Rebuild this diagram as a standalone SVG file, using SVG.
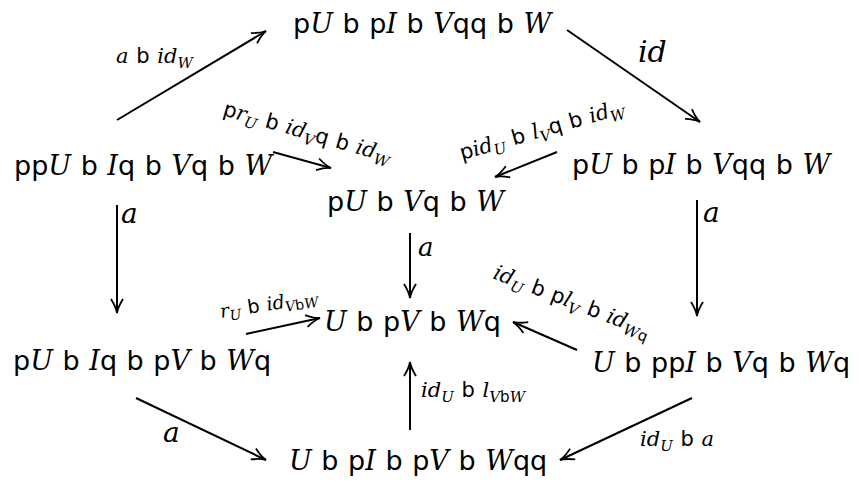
<svg xmlns="http://www.w3.org/2000/svg" width="859" height="483" viewBox="0 0 859 483">
<style>
text{font-family:'DejaVu Serif',serif;font-style:italic;fill:#000}
.s{font-family:'DejaVu Sans',sans-serif;font-style:normal}
.n{font-size:27px;word-spacing:1px}
.l{font-size:21px;word-spacing:1px}
.e{stroke:#000;stroke-width:2;fill:none;marker-end:url(#ah)}
</style>
<defs>
<marker id="ah" viewBox="0 0 16 14" refX="15" refY="7" markerWidth="16" markerHeight="14" markerUnits="userSpaceOnUse" orient="auto">
<path d="M1,1 Q9,6 15,7 Q9,8 1,13" fill="none" stroke="#000" stroke-width="1.8"/>
</marker>
</defs>
<rect width="859" height="483" fill="#fff"/>
<g id="edges">
<line class="e" x1="117" y1="120" x2="266" y2="31"/>
<line class="e" x1="567" y1="30" x2="700" y2="122"/>
<line class="e" x1="273" y1="152" x2="331" y2="168"/>
<line class="e" x1="557" y1="152" x2="495" y2="177"/>
<line class="e" x1="117" y1="205" x2="117" y2="313"/>
<line class="e" x1="410" y1="233" x2="410" y2="298"/>
<line class="e" x1="697" y1="200" x2="697" y2="316"/>
<line class="e" x1="246" y1="334" x2="320" y2="318"/>
<line class="e" x1="577" y1="350" x2="513" y2="322"/>
<line class="e" x1="410" y1="430" x2="410" y2="362"/>
<line class="e" x1="136" y1="398" x2="266" y2="460"/>
<line class="e" x1="692" y1="398" x2="560" y2="460"/>
</g>
<g id="n_top"><text x="293" y="33" class="n"><tspan class="s">p</tspan>U <tspan class="s">b p</tspan>I <tspan class="s">b</tspan> V<tspan class="s">qq b</tspan> W</text></g>
<g id="n_left"><text x="14" y="175" class="n"><tspan class="s">pp</tspan>U <tspan class="s">b</tspan> I<tspan class="s">q b</tspan> V<tspan class="s">q b</tspan> W</text></g>
<g id="n_right"><text x="572" y="174" class="n"><tspan class="s">p</tspan>U <tspan class="s">b p</tspan>I <tspan class="s">b</tspan> V<tspan class="s">qq b</tspan> W</text></g>
<g id="n_center"><text x="327" y="211" class="n"><tspan class="s">p</tspan>U <tspan class="s">b</tspan> V<tspan class="s">q b</tspan> W</text></g>
<g id="n_lowcenter"><text x="324" y="331" class="n">U <tspan class="s">b p</tspan>V <tspan class="s">b</tspan> W<tspan class="s">q</tspan></text></g>
<g id="n_lowleft"><text x="13" y="370" class="n"><tspan class="s">p</tspan>U <tspan class="s">b</tspan> I<tspan class="s">q b p</tspan>V <tspan class="s">b</tspan> W<tspan class="s">q</tspan></text></g>
<g id="n_lowright"><text x="592" y="372" class="n">U <tspan class="s">b pp</tspan>I <tspan class="s">b</tspan> V<tspan class="s">q b</tspan> W<tspan class="s">q</tspan></text></g>
<g id="n_bottom"><text x="289" y="470" class="n">U <tspan class="s">b p</tspan>I <tspan class="s">b p</tspan>V <tspan class="s">b</tspan> W<tspan class="s">qq</tspan></text></g>
<g id="labels">
<text x="116" y="63" class="l">a <tspan class="s">b</tspan> id<tspan font-size="15" dy="5">W</tspan></text>
<text x="638" y="62" font-size="30">id</text>
<text transform="translate(222,115) rotate(16)" class="l"><tspan class="s">p</tspan>r<tspan font-size="15" dy="5">U</tspan><tspan dy="-5"> </tspan><tspan class="s">b</tspan> id<tspan font-size="15" dy="5">V</tspan><tspan class="s" dy="-5">q b</tspan> id<tspan font-size="15" dy="5">W</tspan></text>
<text transform="translate(462,160) rotate(-16)" class="l"><tspan class="s">p</tspan>id<tspan font-size="15" dy="5">U</tspan><tspan dy="-5"> </tspan><tspan class="s">b</tspan> l<tspan font-size="15" dy="5">V</tspan><tspan class="s" dy="-5">q b</tspan> id<tspan font-size="15" dy="5">W</tspan></text>
<text x="121" y="223" font-size="28">a</text>
<text x="418" y="256" font-size="26">a</text>
<text x="703" y="222" font-size="28">a</text>
<text transform="translate(221,318) rotate(-9)" font-size="19" word-spacing="1">r<tspan font-size="14" dy="4">U</tspan><tspan dy="-4"> </tspan><tspan class="s">b</tspan> id<tspan font-size="14" dy="4">V<tspan class="s">b</tspan>W</tspan></text>
<text transform="translate(492,278) rotate(21)" class="l">id<tspan font-size="15" dy="5">U</tspan><tspan dy="-5"> </tspan><tspan class="s">b p</tspan>l<tspan font-size="15" dy="5">V</tspan><tspan dy="-5"> </tspan><tspan class="s">b</tspan> id<tspan font-size="15" dy="5">W<tspan class="s">q</tspan></tspan></text>
<text x="421" y="397" class="l">id<tspan font-size="15" dy="5">U</tspan><tspan dy="-5"> </tspan><tspan class="s">b</tspan> l<tspan font-size="15" dy="5">V<tspan class="s">b</tspan>W</tspan></text>
<text x="163" y="442" font-size="28">a</text>
<text x="640" y="446" class="l">id<tspan font-size="15" dy="5">U</tspan><tspan dy="-5"> </tspan><tspan class="s">b</tspan> a</text>
</g>
</svg>
